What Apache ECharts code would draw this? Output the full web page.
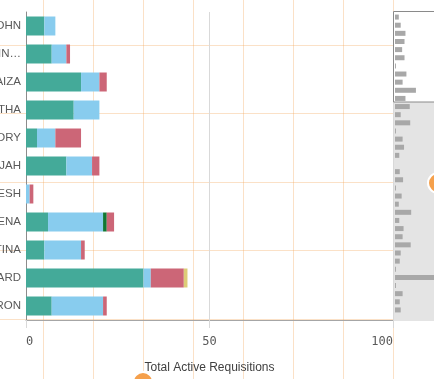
<!DOCTYPE html>
<html><head><meta charset="utf-8">
<script src="https://cdn.jsdelivr.net/npm/echarts@6/dist/echarts.min.js"></script>
<style>html,body{margin:0;padding:0;background:#fff}#c{width:434px;height:379px}</style>
</head><body><div id="c"></div>
<script>
// ---- data ----
const categories = ['OHN','IN…','AIZA','THA','ORY','JAH','ESH','ENA','TINA','ARD','RON'];
const teal  = [5, 7, 15, 13, 3, 11, 0, 6, 5, 32, 7];
const blue  = [3, 4, 5, 7, 5, 7, 1, 15, 10, 2, 14];
const green = [0, 0, 0, 0, 0, 0, 0, 1, 0, 0, 0];
const rose  = [0, 1, 2, 0, 7, 2, 1, 2, 1, 9, 1];
const sand  = [0, 0, 0, 0, 0, 0, 0, 0, 0, 1, 0];
// totals of the further (scrolled-out) rows
const moreTotals = [31, 12, 32, 2, 16, 19, 9, 0, 10, 17, 2, 14, 8, 34, 9, 18, 16, 33, 12, 10, 2, 90, 2, 16, 10, 12];
const xTicks = [0, 50, 100];
const axisTitle = 'Total Active Requisitions';

// ---- build ----
const visibleTotals = categories.map((_, i) => teal[i] + blue[i] + green[i] + rose[i] + sand[i]);
const miniTotals = visibleTotals.concat(moreTotals);
const miniCats = miniTotals.map((_, i) => String(i));
const guide = 'rgba(244,170,95,0.35)';
const txt = '#595959';

const chart = echarts.init(document.getElementById('c'), null, {renderer: 'canvas'});
const mk = (name, data, color) => ({
  name, type: 'bar', stack: 'req', xAxisIndex: 2, yAxisIndex: 2,
  barWidth: 19, data, itemStyle: {color}, silent: true
});
const ob = {outerBoundsMode: 'none', containLabel: false};
chart.setOption({
  animation: false,
  grid: [
    Object.assign({left: 43, right: 41, top: 0, bottom: 0}, ob),
    Object.assign({left: 0, right: 0, top: 45, height: 274}, ob),
    Object.assign({left: 26, right: 41, top: 12, bottom: 59}, ob),
    Object.assign({left: 395, right: 0, top: 13, height: 301}, ob)
  ],
  xAxis: [
    {gridIndex: 0, type: 'value', min: 0, max: 350, interval: 50,
     axisLine: {show: false}, axisTick: {show: false}, axisLabel: {show: false},
     splitLine: {show: true, lineStyle: {color: guide, width: 1}}},
    {gridIndex: 1, type: 'value', show: false, min: 0, max: 1},
    {gridIndex: 2, type: 'value', min: xTicks[0], max: xTicks[xTicks.length - 1], interval: xTicks[1] - xTicks[0],
     name: axisTitle, nameLocation: 'middle', nameGap: 42,
     nameTextStyle: {color: '#404040', fontSize: 12, fontFamily: 'Liberation Sans'},
     axisLine: {show: true, lineStyle: {color: '#a6a6a6'}},
     axisTick: {show: true, length: 8, lineStyle: {color: '#d9d9d9'}},
     axisLabel: {color: txt, fontSize: 12, fontFamily: 'DejaVu Sans Mono', margin: 16,
                 alignMinLabel: 'left', alignMaxLabel: 'right'},
     splitLine: {show: true, lineStyle: {color: '#d9d9d9'}}},
    {gridIndex: 3, type: 'value', min: 0, max: 82, show: false}
  ],
  yAxis: [
    {gridIndex: 0, type: 'value', show: false, min: 0, max: 1},
    {gridIndex: 1, type: 'value', min: 0, max: 4, interval: 1,
     axisLine: {show: false}, axisTick: {show: false}, axisLabel: {show: false},
     splitLine: {show: true, lineStyle: {color: guide, width: 1}}},
    {gridIndex: 2, type: 'category', inverse: true, data: categories,
     axisLine: {show: true, lineStyle: {color: '#8c8c8c'}},
     axisTick: {show: false},
     axisLabel: {color: txt, fontSize: 11.5, fontFamily: 'Liberation Sans', margin: 5}},
    {gridIndex: 3, type: 'category', inverse: true, data: miniCats, show: false}
  ],
  graphic: [
    {type: 'rect', z: 1, shape: {x: 394, y: 102, width: 45, height: 219}, style: {fill: '#e4e4e4'}},
    {type: 'rect', z: 1, shape: {x: 393.5, y: 11.5, width: 50, height: 90.5}, style: {fill: '#fff', stroke: '#8a8a8a', lineWidth: 1}},
    {type: 'circle', z: 10, shape: {cx: 438, cy: 183, r: 10}, style: {fill: '#f5a04c', stroke: '#fff', lineWidth: 2}},
    {type: 'circle', z: 10, shape: {cx: 143, cy: 382, r: 10}, style: {fill: '#f5a04c', stroke: '#fff', lineWidth: 2}}
  ],
  series: [
    {type: 'scatter', xAxisIndex: 0, yAxisIndex: 0, data: []},
    {type: 'scatter', xAxisIndex: 1, yAxisIndex: 1, data: []},
    mk('teal', teal, '#44aa99'),
    mk('blue', blue, '#88ccee'),
    mk('green', green, '#117733'),
    mk('rose', rose, '#cc6677'),
    mk('sand', sand, '#ddcc77'),
    {type: 'bar', xAxisIndex: 3, yAxisIndex: 3, data: miniTotals, barWidth: 5,
     itemStyle: {color: '#a8a8a8'}, silent: true, z: 3}
  ]
});
</script>
</body></html>
